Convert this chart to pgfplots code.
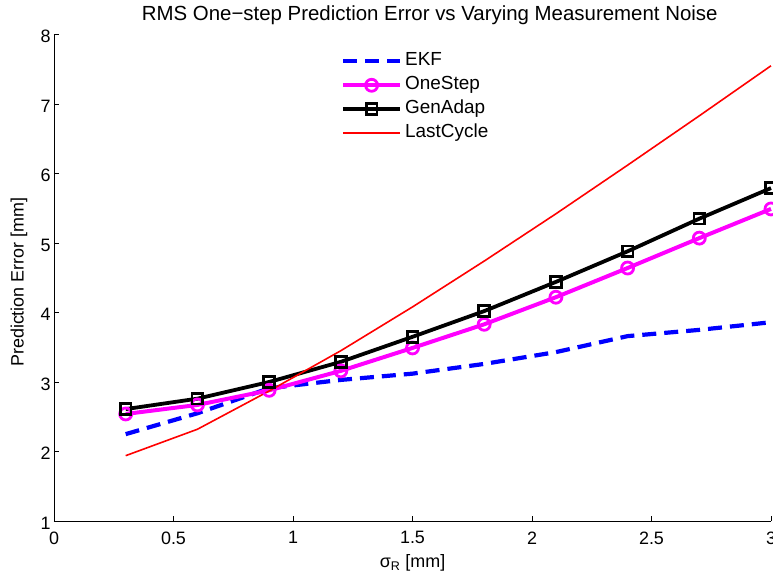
\documentclass[border=0pt]{standalone}
\usepackage{fontspec}
\setmainfont{Liberation Sans}
\usepackage{pgfplots}
\usepackage{pgfplotstable}
\pgfplotsset{compat=1.18}

\definecolor{ekfblue}{rgb}{0,0,1}
\definecolor{onestepmag}{rgb}{1,0,1}
\definecolor{lastred}{rgb}{1,0,0}

% RMS one-step prediction error [mm] against measurement noise sigma_R [mm]
\pgfplotstableread{
sigma  ekf   onestep genadap lastcycle
0.3    2.25  2.54    2.61    1.94
0.6    2.55  2.67    2.76    2.32
0.9    2.91  2.88    3.00    2.87
1.2    3.03  3.16    3.29    3.45
1.5    3.12  3.49    3.65    4.08
1.8    3.26  3.83    4.02    4.74
2.1    3.43  4.22    4.44    5.42
2.4    3.66  4.64    4.88    6.12
2.7    3.75  5.07    5.35    6.83
3.0    3.86  5.49    5.79    7.55
}\errtable

\newcommand{\chartfont}{\fontsize{18}{21}\selectfont}
\newcommand{\legendfont}{\fontsize{19}{22}\selectfont}
\newcommand{\titlefont}{\fontsize{20.5}{24}\selectfont}

\begin{document}
\begin{tikzpicture}
\useasboundingbox (-54bp,-59bp) rectangle (719bp,521bp);
\begin{axis}[
  at={(0,0)}, anchor=south west,
  scale only axis, width=717bp, height=486.5bp,
  xmin=0, xmax=3, ymin=1, ymax=8,
  xtick={0,0.5,...,3}, ytick={1,2,...,8},
  axis lines*=left,
  axis line style={line width=0.8bp},
  tick align=inside,
  major tick length=5bp,
  tick style={line width=0.6bp, black},
  clip=false,
  /pgf/number format/assume math mode=true,
  tick label style={font=\chartfont},
  xticklabel style={yshift=-7bp},
  yticklabel style={yshift=-2bp},
  label style={font=\chartfont},
  title style={font=\titlefont, at={(axis description cs:0.524,1)}, anchor=base, yshift=8bp},
  title={RMS One−step Prediction Error vs Varying Measurement Noise},
  xlabel={σ\textsubscript{R} [mm]},
  xlabel style={at={(axis description cs:0.5,-0.0863)}, anchor=center},
  ylabel={Prediction Error [mm]},
  ylabel style={at={(axis description cs:-0.049,0.491)}, anchor=center},
  legend cell align=left,
  legend style={
    at={(axis description cs:0.4000,0.970)}, anchor=north west,
    draw=none, fill=none, font=\legendfont,
    inner sep=0pt, row sep=0pt,
    nodes={text height=13bp, text depth=4bp, inner ysep=3.5bp, inner xsep=3bp},
  },
  legend image code/.code={%
    \draw[mark repeat=2, mark phase=2, #1]
      plot coordinates {(0bp,0bp) (28.5bp,0bp) (57bp,0bp)};},
]
\addplot[ekfblue, line width=4.2bp, dash pattern=on 14bp off 8bp]
  table[x=sigma, y=ekf] {\errtable};
\addlegendentry{EKF}
\addplot[onestepmag, line width=4bp, mark=o,
  mark options={solid, line width=2.8bp}, mark size=6bp]
  table[x=sigma, y=onestep] {\errtable};
\addlegendentry{OneStep}
\addplot[black, line width=3.8bp, mark=square,
  mark options={solid, line width=2.8bp}, mark size=5.4bp]
  table[x=sigma, y=genadap] {\errtable};
\addlegendentry{GenAdap}
\addplot[lastred, line width=1.6bp]
  table[x=sigma, y=lastcycle] {\errtable};
\addlegendentry{LastCycle}
\end{axis}
\end{tikzpicture}
\end{document}
